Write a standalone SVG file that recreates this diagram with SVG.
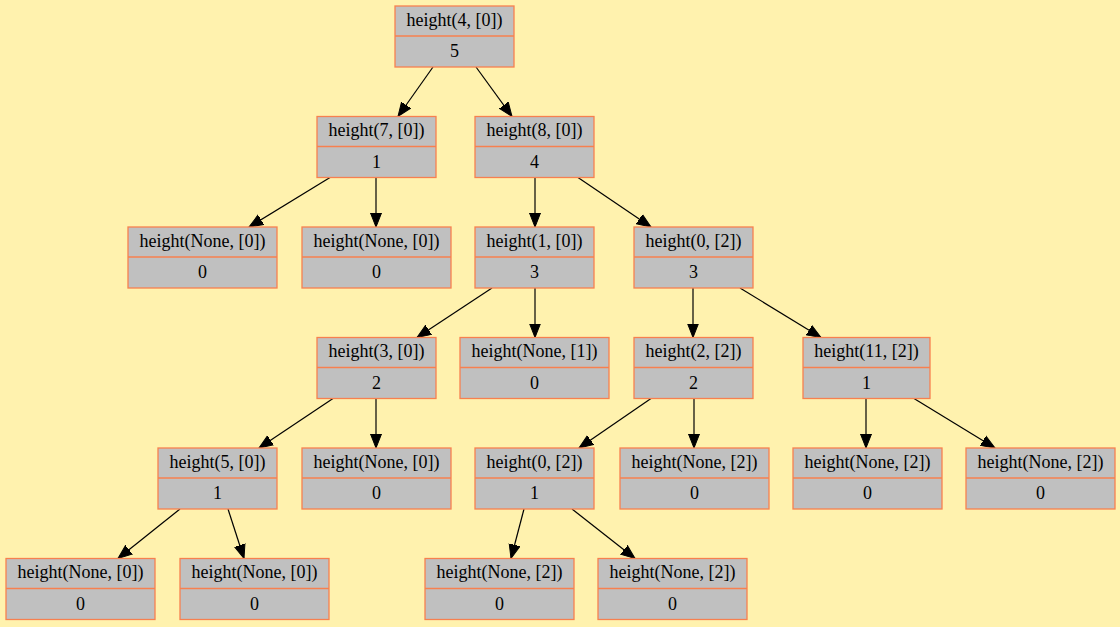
<svg xmlns="http://www.w3.org/2000/svg" width="1120" height="627" viewBox="0 0 1120 627">
  <defs>
    <style>
      .bg { fill: #fff2ae; }
      .rec rect { fill: #c0c0c0; stroke: #f7804f; stroke-width: 1.3; }
      .rec line { stroke: #f7804f; stroke-width: 1.3; }
      .rec text { font-family: "Liberation Serif", "Times New Roman", serif; font-size: 18px; fill: #000; text-anchor: middle; }
      .edges line { stroke: #000; stroke-width: 1.2; fill: none; marker-end: url(#arrow); }
    </style>
    <marker id="arrow" markerUnits="userSpaceOnUse" markerWidth="16" markerHeight="13" refX="14" refY="5.5" orient="auto" viewBox="0 0 16 11">
      <path d="M0,0 L14,5.5 L0,11 z" fill="#000" stroke="#000" stroke-width="1"/>
    </marker>
  </defs>

  <rect class="bg" x="0" y="0" width="1120" height="627"/>

  <!-- connectors: parent bottom edge to child top edge -->
  <g id="edges" class="edges">
    <line x1="433" y1="67" x2="398" y2="116.5"/>
    <line x1="476" y1="67" x2="512" y2="116.5"/>
    <line x1="330" y1="177.5" x2="249" y2="227"/>
    <line x1="376" y1="177.5" x2="376" y2="227"/>
    <line x1="535" y1="177.5" x2="535" y2="227"/>
    <line x1="578" y1="177.5" x2="651" y2="227"/>
    <line x1="492" y1="288" x2="417" y2="337.5"/>
    <line x1="535" y1="288" x2="535" y2="337.5"/>
    <line x1="693" y1="288" x2="693" y2="337.5"/>
    <line x1="740" y1="288" x2="821" y2="337.5"/>
    <line x1="333" y1="398.5" x2="259" y2="448"/>
    <line x1="376" y1="398.5" x2="376" y2="448"/>
    <line x1="651" y1="398.5" x2="579" y2="448"/>
    <line x1="694" y1="398.5" x2="694" y2="448"/>
    <line x1="866" y1="398.5" x2="866" y2="448"/>
    <line x1="914" y1="398.5" x2="995" y2="448"/>
    <line x1="180" y1="509" x2="118" y2="558.5"/>
    <line x1="228" y1="509" x2="244" y2="558.5"/>
    <line x1="524" y1="509" x2="511" y2="558.5"/>
    <line x1="572" y1="509" x2="635" y2="558.5"/>
  </g>

  <!-- record nodes: label row above, value row below -->
  <g id="n1" class="rec" transform="translate(395,6)">
    <rect x="0" y="0" width="119" height="61"/><line x1="0" y1="30" x2="119" y2="30"/>
    <text x="59.5" y="19.5">height(4, [0])</text><text x="59.5" y="51">5</text>
  </g>
  <g id="n2" class="rec" transform="translate(317,116.5)">
    <rect x="0" y="0" width="119" height="61"/><line x1="0" y1="30" x2="119" y2="30"/>
    <text x="59.5" y="19.5">height(7, [0])</text><text x="59.5" y="51">1</text>
  </g>
  <g id="n3" class="rec" transform="translate(475,116.5)">
    <rect x="0" y="0" width="119" height="61"/><line x1="0" y1="30" x2="119" y2="30"/>
    <text x="59.5" y="19.5">height(8, [0])</text><text x="59.5" y="51">4</text>
  </g>
  <g id="n4" class="rec" transform="translate(128,227)">
    <rect x="0" y="0" width="149" height="61"/><line x1="0" y1="30" x2="149" y2="30"/>
    <text x="74.5" y="19.5">height(None, [0])</text><text x="74.5" y="51">0</text>
  </g>
  <g id="n5" class="rec" transform="translate(302,227)">
    <rect x="0" y="0" width="149" height="61"/><line x1="0" y1="30" x2="149" y2="30"/>
    <text x="74.5" y="19.5">height(None, [0])</text><text x="74.5" y="51">0</text>
  </g>
  <g id="n6" class="rec" transform="translate(475,227)">
    <rect x="0" y="0" width="119" height="61"/><line x1="0" y1="30" x2="119" y2="30"/>
    <text x="59.5" y="19.5">height(1, [0])</text><text x="59.5" y="51">3</text>
  </g>
  <g id="n7" class="rec" transform="translate(634,227)">
    <rect x="0" y="0" width="119" height="61"/><line x1="0" y1="30" x2="119" y2="30"/>
    <text x="59.5" y="19.5">height(0, [2])</text><text x="59.5" y="51">3</text>
  </g>
  <g id="n8" class="rec" transform="translate(317,337.5)">
    <rect x="0" y="0" width="119" height="61"/><line x1="0" y1="30" x2="119" y2="30"/>
    <text x="59.5" y="19.5">height(3, [0])</text><text x="59.5" y="51">2</text>
  </g>
  <g id="n9" class="rec" transform="translate(460,337.5)">
    <rect x="0" y="0" width="149" height="61"/><line x1="0" y1="30" x2="149" y2="30"/>
    <text x="74.5" y="19.5">height(None, [1])</text><text x="74.5" y="51">0</text>
  </g>
  <g id="n10" class="rec" transform="translate(634,337.5)">
    <rect x="0" y="0" width="119" height="61"/><line x1="0" y1="30" x2="119" y2="30"/>
    <text x="59.5" y="19.5">height(2, [2])</text><text x="59.5" y="51">2</text>
  </g>
  <g id="n11" class="rec" transform="translate(803,337.5)">
    <rect x="0" y="0" width="127" height="61"/><line x1="0" y1="30" x2="127" y2="30"/>
    <text x="63.5" y="19.5">height(11, [2])</text><text x="63.5" y="51">1</text>
  </g>
  <g id="n12" class="rec" transform="translate(158,448)">
    <rect x="0" y="0" width="119" height="61"/><line x1="0" y1="30" x2="119" y2="30"/>
    <text x="59.5" y="19.5">height(5, [0])</text><text x="59.5" y="51">1</text>
  </g>
  <g id="n13" class="rec" transform="translate(302,448)">
    <rect x="0" y="0" width="149" height="61"/><line x1="0" y1="30" x2="149" y2="30"/>
    <text x="74.5" y="19.5">height(None, [0])</text><text x="74.5" y="51">0</text>
  </g>
  <g id="n14" class="rec" transform="translate(475,448)">
    <rect x="0" y="0" width="119" height="61"/><line x1="0" y1="30" x2="119" y2="30"/>
    <text x="59.5" y="19.5">height(0, [2])</text><text x="59.5" y="51">1</text>
  </g>
  <g id="n15" class="rec" transform="translate(620,448)">
    <rect x="0" y="0" width="149" height="61"/><line x1="0" y1="30" x2="149" y2="30"/>
    <text x="74.5" y="19.5">height(None, [2])</text><text x="74.5" y="51">0</text>
  </g>
  <g id="n16" class="rec" transform="translate(793,448)">
    <rect x="0" y="0" width="149" height="61"/><line x1="0" y1="30" x2="149" y2="30"/>
    <text x="74.5" y="19.5">height(None, [2])</text><text x="74.5" y="51">0</text>
  </g>
  <g id="n17" class="rec" transform="translate(966,448)">
    <rect x="0" y="0" width="149" height="61"/><line x1="0" y1="30" x2="149" y2="30"/>
    <text x="74.5" y="19.5">height(None, [2])</text><text x="74.5" y="51">0</text>
  </g>
  <g id="n18" class="rec" transform="translate(6,558.5)">
    <rect x="0" y="0" width="149" height="61"/><line x1="0" y1="30" x2="149" y2="30"/>
    <text x="74.5" y="19.5">height(None, [0])</text><text x="74.5" y="51">0</text>
  </g>
  <g id="n19" class="rec" transform="translate(180,558.5)">
    <rect x="0" y="0" width="149" height="61"/><line x1="0" y1="30" x2="149" y2="30"/>
    <text x="74.5" y="19.5">height(None, [0])</text><text x="74.5" y="51">0</text>
  </g>
  <g id="n20" class="rec" transform="translate(425,558.5)">
    <rect x="0" y="0" width="149" height="61"/><line x1="0" y1="30" x2="149" y2="30"/>
    <text x="74.5" y="19.5">height(None, [2])</text><text x="74.5" y="51">0</text>
  </g>
  <g id="n21" class="rec" transform="translate(598,558.5)">
    <rect x="0" y="0" width="149" height="61"/><line x1="0" y1="30" x2="149" y2="30"/>
    <text x="74.5" y="19.5">height(None, [2])</text><text x="74.5" y="51">0</text>
  </g>
</svg>
